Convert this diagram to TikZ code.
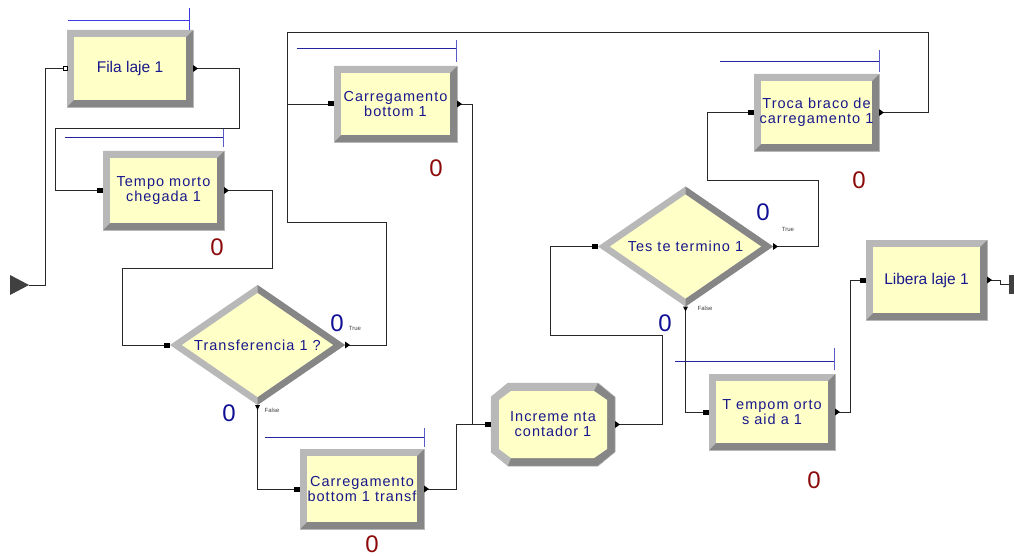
\documentclass[tikz,border=0pt]{standalone}
\usepackage{fontspec}
\setmainfont{Liberation Sans}
\newfontfamily\modfont[LetterSpace=7]{Liberation Sans}
\usetikzlibrary{backgrounds,calc,shapes.geometric}

\definecolor{modfill}{RGB}{255,255,200}
\definecolor{bevhi}{RGB}{184,184,184}
\definecolor{bevlo}{RGB}{134,134,134}
\definecolor{txtblue}{RGB}{24,24,140}
\definecolor{qblue}{RGB}{36,36,160}
\definecolor{qbright}{RGB}{60,60,230}
\definecolor{qtickc}{RGB}{90,90,200}
\definecolor{cntred}{RGB}{140,10,10}
\definecolor{cntblue}{RGB}{16,16,150}
\definecolor{wirec}{RGB}{40,40,40}
\definecolor{srcgray}{RGB}{64,64,64}

\tikzset{
  modbox/.style={rectangle, inner sep=0pt, outer sep=0pt, text=txtblue, align=center,
    font=\modfont\fontsize{14.5}{15}\selectfont},
  decbox/.style={diamond, aspect=1.46, inner sep=0pt, outer sep=0pt,
    minimum width=175, minimum height=120, text=txtblue, align=center,
    font=\modfont\fontsize{14.5}{15}\selectfont},
  rim/.style={draw=black!28, line width=0.5pt},
  wire/.style={draw=wirec, line width=0.9pt},
  qline/.style={draw=qblue, line width=1pt},
  qtick/.style={draw=qtickc, line width=1pt},
  cntr/.style={text=cntred, inner sep=0pt, font=\fontsize{24}{24}\selectfont},
  cntb/.style={text=cntblue, inner sep=0pt, font=\fontsize{24}{24}\selectfont},
  tiny/.style={text=black!75, inner sep=0pt, font=\fontsize{6}{6}\selectfont}
}

% bevelled rectangular module frame, drawn under the node text
\newcommand\modframe[1]{%
  \begin{scope}[on background layer]
    \fill[bevlo] (#1.north west) rectangle (#1.south east);
    \fill[bevhi] (#1.south west) -- (#1.north west) -- (#1.north east)
      -- ([shift={(-7,7)}]#1.north east) -- ([shift={(7,7)}]#1.north west)
      -- ([shift={(7,-7)}]#1.south west) -- cycle;
    \fill[modfill] ([shift={(7,7)}]#1.north west) rectangle ([shift={(-7,-7)}]#1.south east);
    \draw[rim] (#1.north west) rectangle (#1.south east);
  \end{scope}}

% bevelled decision diamond
\newcommand\decframe[1]{%
  \begin{scope}[on background layer]
    \fill[bevhi] (#1.north) -- (#1.east) -- (#1.south) -- (#1.west) -- cycle;
    \fill[bevlo] (#1.north) -- (#1.east) -- (#1.south) -- ([shift={(0,-8)}]#1.south)
      -- ([shift={(-12,0)}]#1.east) -- ([shift={(0,8)}]#1.north) -- cycle;
    \fill[modfill] ([shift={(0,8)}]#1.north) -- ([shift={(-12,0)}]#1.east)
      -- ([shift={(0,-8)}]#1.south) -- ([shift={(12,0)}]#1.west) -- cycle;
  \end{scope}}

% entry and exit ports
\newcommand\inport[1]{\fill[black] ([shift={(-6,-2.5)}]#1) rectangle ++(6,5);}
\newcommand\outport[1]{\fill[black] (#1) -- ++(0,-3.5) -- ++(5,3.5) -- ++(-5,3.5) -- cycle;}
\newcommand\downport[1]{\fill[black] (#1) -- ++(-2.5,0) -- ++(2.5,5) -- ++(2.5,-5) -- cycle;}

\begin{document}
\begin{tikzpicture}[x=1pt,y=-1pt]
\useasboundingbox (0,0) rectangle (1014,556);
\begin{scope}[on background layer]
  \fill[white] (0,0) rectangle (1014,556);
\end{scope}

% ---------- modules ----------
\node[modbox, minimum width=126, minimum height=77, font=\fontsize{15.5}{17}\selectfont]
  (fila) at (130,68.5) {Fila laje 1};
\node[modbox, minimum width=121, minimum height=79] (tmc) at (163.5,190.5) {Tempo morto\\chegada 1};
\node[decbox] (tr) at (257.5,345) {Transferencia 1 ?};
\node[modbox, minimum width=123, minimum height=76] (cb1) at (395.5,104) {Carregamento\\bottom 1};
\node[modbox, minimum width=124, minimum height=80] (cbt) at (362,489) {Carregamento\\bottom 1 transf};
\node[modbox, minimum width=124, minimum height=83] (inc) at (553,424.5) {Increme nta\\contador 1};
\node[decbox] (tt) at (685.5,246.5) {Tes te termino 1};
\node[modbox, minimum width=125, minimum height=77] (tbc) at (816.5,112.5) {Troca braco de\\carregamento 1};
\node[modbox, minimum width=126, minimum height=76] (tms) at (772,412) {T empom orto\\s aid a 1};
\node[modbox, minimum width=121, minimum height=80, font=\fontsize{15.5}{17}\selectfont]
  (lib) at (926.5,280) {Libera laje 1};
\node[rectangle, fill=srcgray, minimum width=7, minimum height=19, inner sep=0pt, outer sep=0pt]
  (disp) at (1012.5,284.5) {};

\modframe{fila}\modframe{tmc}\modframe{cb1}\modframe{cbt}
\modframe{tbc}\modframe{tms}\modframe{lib}
\decframe{tr}\decframe{tt}

% octagonal assign module
\begin{scope}[on background layer, shift={(inc.north west)}]
  \fill[bevhi] (17,0) -- (107,0) -- (124,14) -- (124,69) -- (107,83) -- (17,83) -- (0,69) -- (0,14) -- cycle;
  \fill[bevlo] (107,0) -- (124,14) -- (124,69) -- (107,83) -- (17,83)
    -- (20,75) -- (103,75) -- (116,66) -- (116,17) -- (103,8) -- cycle;
  \fill[modfill] (20,8) -- (103,8) -- (116,17) -- (116,66) -- (103,75) -- (20,75) -- (8,66) -- (8,17) -- cycle;
  \draw[rim] (17,0) -- (107,0) -- (124,14) -- (124,69) -- (107,83) -- (17,83) -- (0,69) -- (0,14) -- cycle;
\end{scope}

% entity source
\fill[srcgray] (10,275) -- (29,285) -- (10,295) -- cycle;
\coordinate (src) at (29,285);
\coordinate (loop) at (287,32);

% ---------- queues ----------
\draw[qline, draw=qbright] (68,21) -- (189,21);   \draw[qtick, draw=qbright] (189,8) -- (189,30);
\draw[qline] (65,138) -- (223,138); \draw[qtick] (223,129) -- (223,147);
\draw[qline] (297,49) -- (456,49);  \draw[qtick] (456,40) -- (456,62);
\draw[qline] (265,437) -- (424,437); \draw[qtick] (424,428) -- (424,447);
\draw[qline] (720,62) -- (879,62);  \draw[qtick] (879,50) -- (879,72);
\draw[qline] (675,361) -- (834,361); \draw[qtick] (834,348) -- (834,370);

% ---------- connectors ----------
\draw[wire] (src) -- ++(16,0) |- (fila.west);
\draw[wire] (fila.east) -- ++(46,0) |- ++(-184,59.5) |- (tmc.west);
\draw[wire] (tmc.east) -- ++(48,0) |- ++(-150,78) |- (tr.west);
\draw[wire] (tr.east) -- ++(41,0) |- ++(-99,-123) |- (cb1.west);
\draw[wire] (tbc.east) -- ++(49,0) |- (loop) |- (cb1.west);
\draw[wire] (cb1.east) -- ++(15,0) |- (inc.west);
\draw[wire] (tr.south) |- (cbt.west);
\draw[wire] (cbt.east) -- ++(32,0) |- (inc.west);
\draw[wire] (inc.east) -- ++(47,0) |- ++(-112,-89.5) |- (tt.west);
\draw[wire] (tt.east) -- ++(45,0) |- ++(-111,-66.5) |- (tbc.west);
\draw[wire] (tt.south) |- (tms.west);
\draw[wire] (tms.east) -- ++(15,0) |- (lib.west);
\draw[wire] (lib.east) -- ++(13,0) |- (disp.west);

% ---------- ports ----------
\draw[black, fill=white, line width=0.6pt] ([shift={(-4,-2)}]fila.west) rectangle ++(4,4);
\inport{tmc.west}\inport{tr.west}\inport{cb1.west}\inport{cbt.west}
\inport{inc.west}\inport{tt.west}\inport{tbc.west}\inport{tms.west}\inport{lib.west}
\outport{fila.east}\outport{tmc.east}\outport{tr.east}\outport{cb1.east}\outport{cbt.east}
\outport{inc.east}\outport{tt.east}\outport{tbc.east}\outport{tms.east}\outport{lib.east}
\downport{tr.south}\downport{tt.south}

% ---------- counters ----------
\node[cntr] (n1) at (217,247) {0};
\node[cntr] (n2) at (436,168) {0};
\node[cntr] (n3) at (372,544) {0};
\node[cntr] (n4) at (859,180) {0};
\node[cntr] (n5) at (814,480) {0};
\node[cntb] (b1) at (337,323) {0};
\node[cntb] (b2) at (229,413) {0};
\node[cntb] (b3) at (763,212) {0};
\node[cntb] (b4) at (665,323) {0};
\node[tiny] (l1) at (355,328) {True};
\node[tiny] (l2) at (272,410) {False};
\node[tiny] (l3) at (788,229) {True};
\node[tiny] (l4) at (705,308) {False};
\end{tikzpicture}
\end{document}
